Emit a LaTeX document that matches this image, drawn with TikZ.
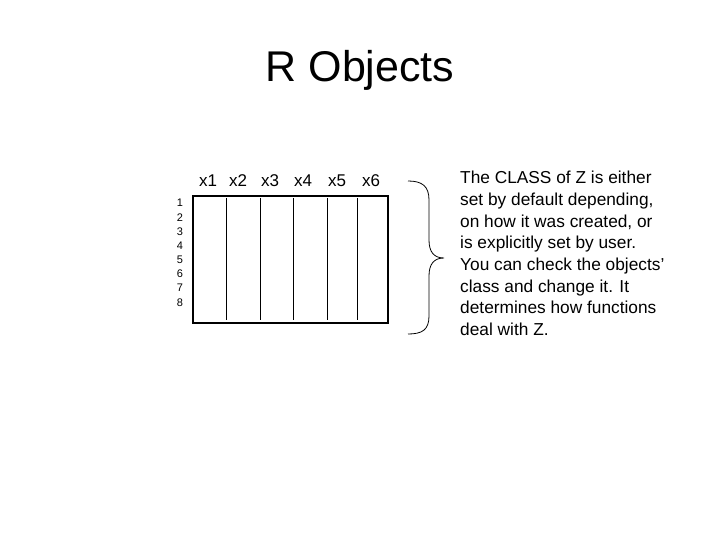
\documentclass[tikz,border=0pt]{standalone}
\usepackage{fontspec}
\setmainfont{Liberation Sans}
\begin{document}
\begin{tikzpicture}[x=1pt,y=-1pt,
  hdr/.style={font=\fontsize{17}{19}\selectfont,inner sep=0pt},
  rown/.style={font=\fontsize{11}{12}\selectfont,inner sep=0pt},
  col/.style={line width=0.8pt}]
\useasboundingbox[fill=white] (0,0) rectangle (720,540);
\node[font=\fontsize{43}{48}\selectfont] (title) at (360,70) {R Objects};
\node[draw,line width=1.5pt,minimum width=195pt,minimum height=127pt,inner sep=0pt] (box) at (290.5,259.5) {};
\foreach \x/\n in {208/1,238/2,270/3,303/4,337/5,371/6}
  \node[hdr] (h\n) at (\x,181) {x\n};
\foreach \i in {1,...,8}
  \node[rown] (r\i) at (180,203+14.2*\i-14.2) {\i};
\foreach \x/\n in {226/a,260/b,293/c,327/d,357/e}{
  \coordinate (t\n) at (\x,198); \coordinate (b\n) at (\x,320);
  \draw[col] (t\n) -- (b\n);}
\coordinate (bt) at (408,181); \coordinate (bm) at (444,258); \coordinate (bb) at (408,334);
\draw[line width=0.8pt] (bt) .. controls (422,181) and (429,186) .. (429,200)
  -- (429,240) .. controls (429,252) and (434,258) .. (bm)
  .. controls (434,258) and (429,264) .. (429,276) -- (429,316)
  .. controls (429,330) and (422,334) .. (bb);
\node[anchor=north west,align=left,inner sep=0pt,font=\fontsize{17.3}{21.7}\selectfont] (txt) at (460,171)
{The CLASS of Z is either\\set by default depending,\\on how it was created, or\\is explicitly set by user.\\You can check the objects’\\class and change it. It\\determines how functions\\deal with Z.};
\end{tikzpicture}
\end{document}
